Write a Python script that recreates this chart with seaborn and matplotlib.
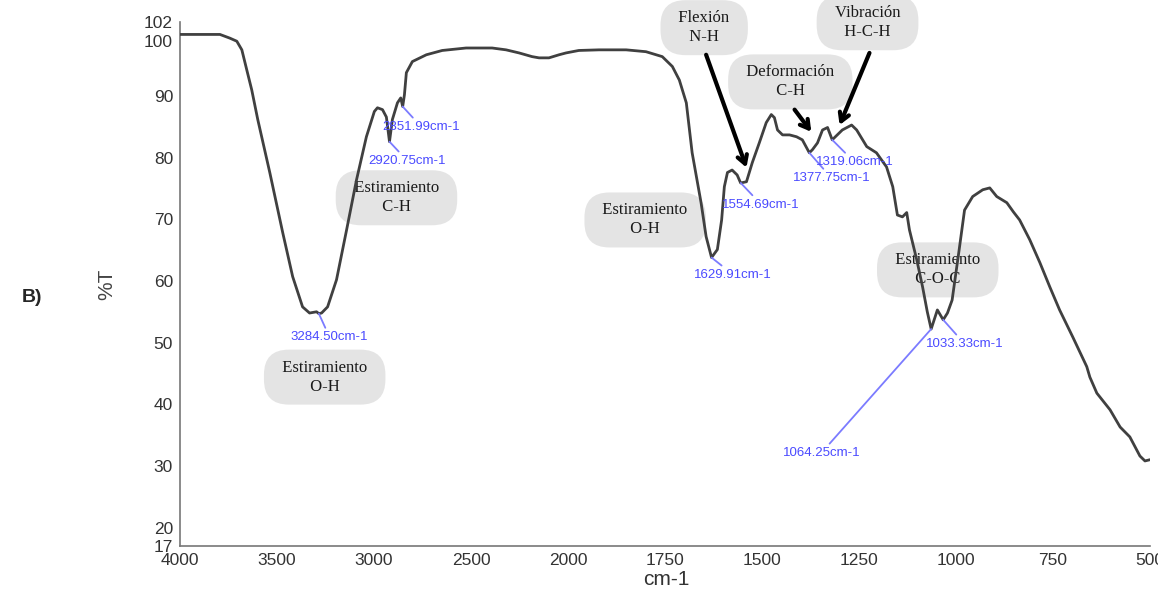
import matplotlib
matplotlib.use('Agg')
import matplotlib.pyplot as plt
import matplotlib.transforms as mtransforms
import numpy as np
import pandas as pd
import seaborn as sns

# Spectrum (wavenumber in cm-1, transmittance in %T)
wavenumber = [4000, 3794, 3743, 3707, 3681, 3656, 3630, 3599, 3537, 3470,
              3419, 3368, 3332, 3296, 3284, 3270, 3239, 3193, 3141, 3090,
              3039, 2998, 2982, 2956, 2936, 2920, 2905, 2879, 2862, 2852,
              2843, 2833, 2802, 2730, 2648, 2525, 2391, 2319, 2252, 2185,
              2149, 2098, 2046, 2010, 1972, 1920, 1850, 1799, 1757, 1731,
              1713, 1695, 1680, 1657, 1644, 1630, 1615, 1604, 1597, 1589,
              1577, 1564, 1555, 1540, 1525, 1507, 1489, 1476, 1468, 1460,
              1447, 1429, 1411, 1396, 1378, 1370, 1357, 1344, 1331, 1319,
              1293, 1269, 1256, 1230, 1205, 1179, 1163, 1151, 1138, 1127,
              1120, 1101, 1086, 1074, 1064, 1048, 1033, 1022, 1010, 992,
              978, 957, 931, 913, 895, 869, 852, 836, 810, 784,
              758, 733, 699, 663, 655, 637, 603, 577, 552, 526,
              513, 500]
transmittance = [100.0, 100.0, 99.4, 98.9, 97.5, 94.3, 91.0, 86.2, 77.6, 67.8,
                 60.7, 55.8, 54.8, 55.0, 54.7, 54.8, 55.8, 60.2, 68.3, 76.4,
                 83.4, 87.5, 88.1, 87.8, 86.6, 82.6, 86.2, 88.9, 89.7, 88.3,
                 90.2, 93.8, 95.6, 96.7, 97.4, 97.8, 97.8, 97.5, 97.0, 96.4,
                 96.2, 96.2, 96.7, 97.0, 97.4, 97.5, 97.5, 97.2, 96.4, 94.8,
                 92.6, 88.9, 80.8, 72.7, 67.2, 63.8, 65.1, 69.9, 75.3, 77.6,
                 78.0, 77.2, 75.9, 76.1, 79.2, 82.4, 85.7, 87.0, 86.5, 84.5,
                 83.7, 83.7, 83.4, 82.9, 80.8, 81.3, 82.4, 84.5, 84.9, 82.9,
                 84.5, 85.3, 84.5, 81.8, 80.8, 78.5, 75.3, 70.7, 70.4, 71.1,
                 68.3, 63.4, 59.0, 55.0, 52.2, 55.3, 53.7, 54.8, 56.9, 65.0,
                 71.5, 73.7, 74.8, 75.1, 73.7, 72.7, 71.2, 69.9, 66.7, 63.0,
                 59.0, 55.3, 50.9, 46.1, 44.4, 41.8, 39.1, 36.3, 34.7, 31.6,
                 30.8, 31.0]

# Peak labels: peak position, transmittance at peak, label position
peak_labels = ['3284.50cm-1', '2920.75cm-1', '2851.99cm-1', '1629.91cm-1', '1554.69cm-1',
               '1377.75cm-1', '1319.06cm-1', '1033.33cm-1', '1064.25cm-1']
peak_x = [3284, 2920, 2852, 1630, 1554.7, 1378, 1319, 1033, 1064]
peak_y = [54.7, 82.6, 88.3, 63.8, 75.9, 80.8, 82.9, 53.7, 52.2]
peak_text_x = [3229, 2828, 2756, 1574, 1502, 1321, 1262, 978, 1347]
peak_text_y = [50.9, 79.5, 85.0, 61.0, 72.4, 76.7, 79.3, 49.8, 32.1]

# Grey band boxes
band_labels = ['Estiramiento\nO-H', 'Estiramiento\nC-H', 'Estiramiento\nO-H', 'Flexión\nN-H',
               'Deformación\nC-H', 'Vibración\nH-C-H', 'Estiramiento\nC-O-C']
band_x = [3254, 2884, 1801, 1649, 1427, 1228, 1047]
band_y = [44.4, 73.5, 69.9, 101.1, 92.3, 101.9, 61.8]

# Black arrows from boxes to bands
arrow_start = [(1644, 96.7), (1416, 87.8), (1223, 97.0)]
arrow_end = [(1540, 78.4), (1373, 84.2), (1300, 85.3)]

x_ticks = [4000, 3500, 3000, 2500, 2000, 1750, 1500, 1250, 1000, 750, 500]
y_ticks = [17, 20, 30, 40, 50, 60, 70, 80, 90, 100, 102]

sns.set_style('white')
plt.rcParams['font.family'] = ['Liberation Sans', 'DejaVu Sans']

df = pd.DataFrame({'wavenumber': wavenumber, 'T': transmittance})

fig = plt.figure(figsize=(11.58, 5.96), dpi=100)
ax = fig.add_axes([0.1554, 0.0839, 0.8377, 0.879])

sns.lineplot(data=df, x='wavenumber', y='T', ax=ax, color='#404040', lw=2,
             estimator=None, sort=False, zorder=3, solid_joinstyle='round')


# instrument axis: scale doubles below 2000 cm-1
def fwd(x):
    x = np.asarray(x, dtype=float)
    return np.where(x > 2000, 2000 + (x - 2000) / 2, x)


def inv(u):
    u = np.asarray(u, dtype=float)
    return np.where(u > 2000, 2000 + (u - 2000) * 2, u)


ax.set_xscale('function', functions=(fwd, inv))
ax.set_xlim(4000, 500)
ax.set_ylim(17, 102)
ax.set_xticks(x_ticks)
ax.set_xticklabels([str(t) for t in x_ticks])
ax.set_yticks(y_ticks)
ax.set_yticklabels([str(t) for t in y_ticks])
ax.minorticks_off()

for side in ['top', 'right']:
    ax.spines[side].set_visible(False)
for side in ['left', 'bottom']:
    ax.spines[side].set_color('#777777')
    ax.spines[side].set_linewidth(1.2)
ax.tick_params(axis='both', direction='out', length=4, width=1, color='#777777',
               labelsize=12.5, labelcolor='#333333', pad=1)

# the 100 label sits a little below its tick, as in the instrument printout
for lbl in ax.get_yticklabels():
    if lbl.get_text() == '100':
        lbl.set_transform(lbl.get_transform() +
                          mtransforms.ScaledTranslation(0, -5 / 72, fig.dpi_scale_trans))

ax.set_xlabel('cm-1', fontsize=15, color='#333333')
ax.xaxis.set_label_coords(0.501, -0.045)
ax.set_ylabel('%T', fontsize=15, color='#444444')
ax.yaxis.set_label_coords(-0.066, 0.5)

# grey band boxes
for label, bx, by in zip(band_labels, band_x, band_y):
    padded = '\n'.join('  ' + line + '  ' for line in label.split('\n'))
    ax.text(bx, by, padded, ha='center', va='center', fontsize=12,
            family=['Liberation Serif', 'DejaVu Serif'], color='#1a1a1a', linespacing=1.25,
            bbox=dict(boxstyle='round,pad=0.6,rounding_size=1.5', fc='#e2e2e2', ec='none', alpha=0.92),
            zorder=2, clip_on=False)

# blue peak labels with leader lines
for label, px, py, tx, ty in zip(peak_labels, peak_x, peak_y, peak_text_x, peak_text_y):
    ax.annotate(label, xy=(px, py), xytext=(tx, ty), textcoords='data',
                ha='center', va='center', fontsize=9.5, color='#4a4aff',
                arrowprops=dict(arrowstyle='-', color='#7b7bff', lw=1.3, shrinkA=0, shrinkB=0),
                zorder=4)

# black arrows
for (sx, sy), (ex, ey) in zip(arrow_start, arrow_end):
    ax.annotate('', xy=(ex, ey), xytext=(sx, sy), textcoords='data',
                arrowprops=dict(arrowstyle='->,head_length=0.6,head_width=0.35', lw=3,
                                color='black', shrinkA=0, shrinkB=0),
                zorder=5)

fig.text(0.019, 0.5, 'B)', fontsize=14, fontweight='bold', ha='left', va='center')

fig.savefig('out.png', dpi=100)
